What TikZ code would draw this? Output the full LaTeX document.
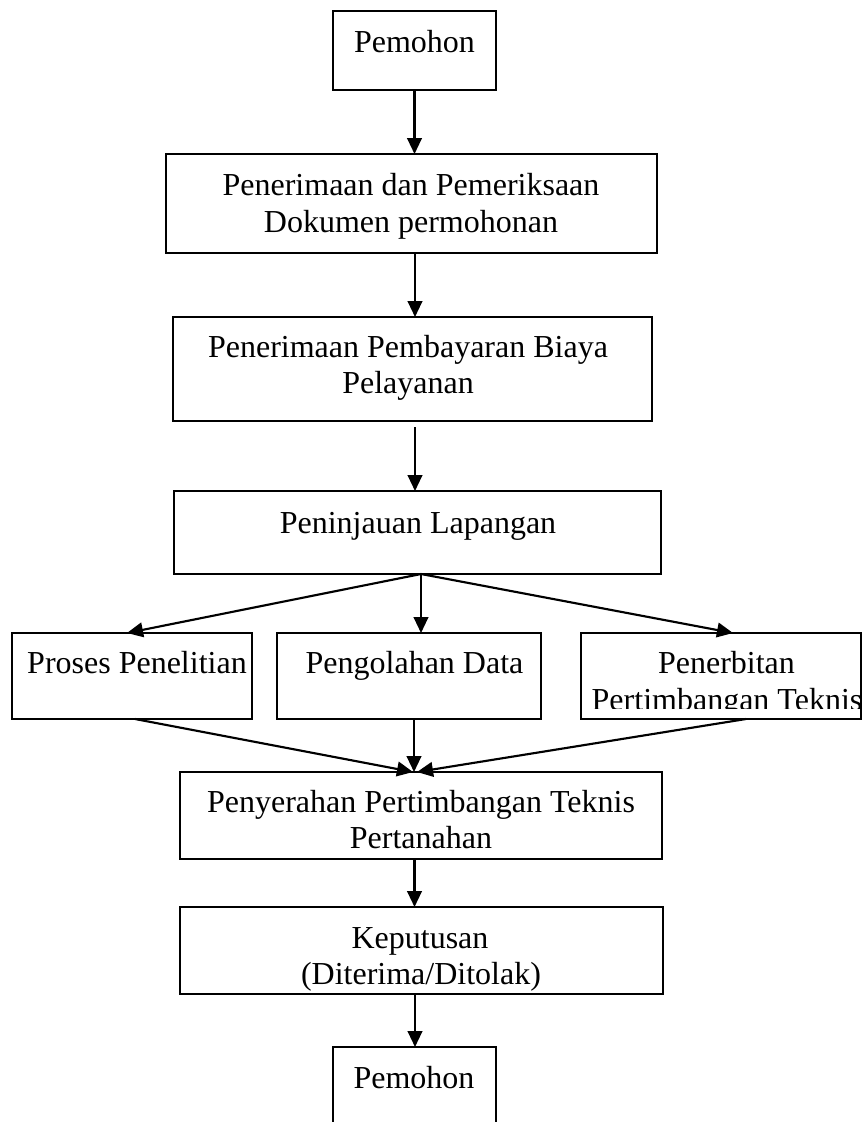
\documentclass[tikz,border=0pt]{standalone}
\usepackage{fontspec}
\setmainfont{Liberation Serif}
\usetikzlibrary{arrows.meta,calc}
\begin{document}
\begin{tikzpicture}[x=0.75pt,y=-0.75pt,
  box/.style={draw, line width=1.5pt, rectangle, inner sep=0pt, outer sep=0pt},
  txt/.style={anchor=base, inner sep=0pt, font=\fontsize{24}{28}\selectfont},
  arr/.style={line width=1.6pt, -{Triangle[length=12pt,width=11pt]}}]
\useasboundingbox (0,0) rectangle (863,1122);
\clip (0,0) rectangle (863,1122);
% boxes
\node[box, minimum width=163*0.75pt, minimum height=79*0.75pt] (b1) at (414.5,50.5) {};
\node[box, minimum width=491*0.75pt, minimum height=99*0.75pt] (b2) at (411.5,203.5) {};
\node[box, minimum width=479*0.75pt, minimum height=104*0.75pt] (b3) at (412.5,369) {};
\node[box, minimum width=487*0.75pt, minimum height=83*0.75pt] (b4) at (417.5,532.5) {};
\node[box, minimum width=240*0.75pt, minimum height=86*0.75pt] (b5) at (132,676) {};
\node[box, minimum width=264*0.75pt, minimum height=86*0.75pt] (b6) at (409,676) {};
\node[box, minimum width=280*0.75pt, minimum height=86*0.75pt] (b7) at (721,676) {};
\node[box, minimum width=482*0.75pt, minimum height=87*0.75pt] (b8) at (421,815.5) {};
\node[box, minimum width=483*0.75pt, minimum height=87*0.75pt] (b9) at (421.5,950.5) {};
\node[box, minimum width=163*0.75pt, minimum height=93*0.75pt] (b10) at (414.5,1093.5) {};
% texts
\node[txt] (t1) at (414.5,52) {Pemohon};
\node[txt] (t2a) at (411,195) {Penerimaan dan Pemeriksaan};
\node[txt] (t2b) at (411,232) {Dokumen permohonan};
\node[txt] (t3a) at (408,357) {Penerimaan Pembayaran Biaya};
\node[txt] (t3b) at (408,393) {Pelayanan};
\node[txt] (t4) at (418,533) {Peninjauan Lapangan};
\node[txt] (t5) at (137,673) {Proses Penelitian};
\node[txt] (t6) at (414.5,673) {Pengolahan Data};
\begin{scope}
\clip (b7.north west) rectangle ($(b7.south east)+(0,-11)$);
\node[txt] (t7a) at (726.5,673) {Penerbitan};
\node[txt] (t7b) at (727,710) {Pertimbangan Teknis};
\end{scope}
\node[txt] (t8a) at (421,812) {Penyerahan Pertimbangan Teknis};
\node[txt] (t8b) at (421,848) {Pertanahan};
\node[txt] (t9a) at (420,948.5) {Keputusan};
\node[txt] (t9b) at (421,984) {(Diterima/Ditolak)};
\node[txt] (t10) at (414,1088) {Pemohon};
% connectors
\draw[arr] (b1.south) -- (b1.south |- b2.north);
\coordinate (c23) at ($(b2.south)+(3.5,0)$);
\draw[arr] (c23) -- (c23 |- b3.north);
\coordinate (c34) at ($(b3.south)+(2.5,0)$);
\draw[arr, shorten <=4.5pt] (c34) -- (c34 |- b4.north);
\coordinate (c4) at ($(b4.south)+(3.5,0)$);
\draw[arr] (c4) -- ($(b5.north)+(-5,0)$);
\draw[arr] (c4) -- ($(b6.north)+(12,0)$);
\draw[arr] (c4) -- ($(b7.north)+(12,0)$);
\draw[arr] ($(b5.south)+(3,0)$) -- ($(b8.north)+(-8,0)$);
\draw[arr] ($(b6.south)+(5,0)$) -- ($(b8.north)+(-7,0)$);
\draw[arr] ($(b7.south)+(25,0)$) -- ($(b8.north)+(-4,0)$);
\coordinate (c89) at ($(b8.south)+(-6.5,0)$);
\draw[arr] (c89) -- (c89 |- b9.north);
\coordinate (c910) at ($(b9.south)+(-6.5,0)$);
\draw[arr] (c910) -- (c910 |- b10.north);
\end{tikzpicture}
\end{document}
